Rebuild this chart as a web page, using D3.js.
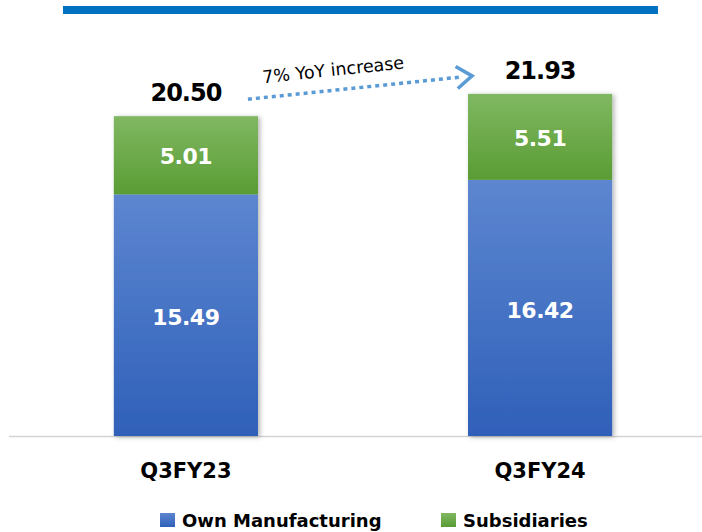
<!DOCTYPE html>
<html>
<head>
<meta charset="utf-8">
<script src="https://cdn.jsdelivr.net/npm/d3@7"></script>
<style>
	body { margin: 0; background: white; }
	svg { display: block; }
	text { font-family: "DejaVu Sans", Verdana, sans-serif; }
</style>
</head>
<body>
<svg id="chart" width="702" height="532"></svg>
<script>
let categories = ['Q3FY23', 'Q3FY24'];
let series_names = ['Own Manufacturing', 'Subsidiaries'];
let own_manufacturing = [15.49, 16.42];
let subsidiaries = [5.01, 5.51];
let totals = [20.50, 21.93];
let yoy_label = '7% YoY increase';

let width = 702, height = 532,
	axis_y = 436;

let svg = d3.select('#chart');

let x = d3.scaleBand().domain(categories)
	.range([9, 717])
	.paddingInner(0.593)
	.paddingOuter(0.296);
let y = d3.scaleLinear().domain([0, 25])
	.range([axis_y, 46]);

let data = categories.map((c, i) => ({
	cat: c,
	own: own_manufacturing[i],
	sub: subsidiaries[i],
	total: totals[i]
}));

// gradients + shadow
let defs = svg.append('defs');
let grads = [
	{id: 'grad_own', top: '#5d86d0', bottom: '#2f60b9'},
	{id: 'grad_sub', top: '#80b862', bottom: '#5a9c34'}
];
grads.forEach(g => {
	let lg = defs.append('linearGradient')
		.attr('id', g.id)
		.attr('x1', 0).attr('y1', 0).attr('x2', 0).attr('y2', 1);
	lg.append('stop').attr('offset', '0%').attr('stop-color', g.top);
	lg.append('stop').attr('offset', '100%').attr('stop-color', g.bottom);
});
let shadow = defs.append('filter')
	.attr('id', 'bar_shadow')
	.attr('x', '-10%').attr('y', '-10%')
	.attr('width', '125%').attr('height', '120%');
shadow.append('feDropShadow')
	.attr('dx', 2).attr('dy', 1)
	.attr('stdDeviation', 2.5)
	.attr('flood-color', '#000')
	.attr('flood-opacity', 0.3);

// blue band at top
svg.append('rect')
	.attr('x', 63)
	.attr('y', 6)
	.attr('width', 595)
	.attr('height', 8)
	.attr('fill', '#0070c0');

// axis line
svg.append('line')
	.attr('x1', 9)
	.attr('x2', width)
	.attr('y1', axis_y + 0.5)
	.attr('y2', axis_y + 0.5)
	.style('stroke', '#d4d4d4')
	.style('stroke-width', 1.5);

let bars = svg.selectAll('.bar')
	.data(data)
	.enter()
	.append('g')
	.attr('class', 'bar');

let bar_shapes = bars.append('g')
	.attr('filter', 'url(#bar_shadow)');

bar_shapes.append('rect')
	.attr('x', d => x(d.cat))
	.attr('y', d => y(d.own))
	.attr('width', x.bandwidth())
	.attr('height', d => y(0) - y(d.own))
	.attr('fill', 'url(#grad_own)');

bar_shapes.append('rect')
	.attr('x', d => x(d.cat))
	.attr('y', d => y(d.own + d.sub))
	.attr('width', x.bandwidth())
	.attr('height', d => y(d.own) - y(d.own + d.sub))
	.attr('fill', 'url(#grad_sub)');

// inside labels
bars.append('text')
	.attr('x', d => x(d.cat) + x.bandwidth() / 2)
	.attr('y', d => (y(0) + y(d.own)) / 2 + 10)
	.attr('text-anchor', 'middle')
	.style('font-size', '22px')
	.style('font-weight', 'bold')
	.style('letter-spacing', '-0.5px')
	.style('fill', 'white')
	.text(d => d.own.toFixed(2));

bars.append('text')
	.attr('x', d => x(d.cat) + x.bandwidth() / 2)
	.attr('y', d => (y(d.own) + y(d.own + d.sub)) / 2 + 9)
	.attr('text-anchor', 'middle')
	.style('font-size', '22px')
	.style('font-weight', 'bold')
	.style('letter-spacing', '-0.5px')
	.style('fill', 'white')
	.text(d => d.sub.toFixed(2));

// totals
bars.append('text')
	.attr('x', d => x(d.cat) + x.bandwidth() / 2)
	.attr('y', d => y(d.total) - 15)
	.attr('text-anchor', 'middle')
	.style('font-size', '24px')
	.style('font-weight', 'bold')
	.style('letter-spacing', '-1px')
	.style('fill', 'black')
	.text(d => d.total.toFixed(2));

// category labels
svg.selectAll('.cat_label')
	.data(categories)
	.enter()
	.append('text')
	.attr('class', 'cat_label')
	.attr('x', d => x(d) + x.bandwidth() / 2)
	.attr('y', 478)
	.attr('text-anchor', 'middle')
	.style('font-size', '21px')
	.style('font-weight', 'bold')
	.text(d => d);

// yoy arrow
let xc0 = x(categories[0]) + x.bandwidth() / 2,
	xc1 = x(categories[1]) + x.bandwidth() / 2;
let p0 = [xc0 + 62, y(totals[0]) - 17],
	p1 = [xc1 - 68, y(totals[1]) - 18];
let ang = Math.atan2(p1[1] - p0[1], p1[0] - p0[0]);

svg.append('line')
	.attr('x1', p0[0]).attr('y1', p0[1])
	.attr('x2', p1[0] - 10 * Math.cos(ang)).attr('y2', p1[1] - 10 * Math.sin(ang))
	.style('stroke', '#5b9bd5')
	.style('stroke-width', 3.5)
	.style('stroke-dasharray', '4,4');

let head = 19, spread = 0.62;
svg.append('path')
	.attr('d', d3.line()([
		[p1[0] - head * Math.cos(ang - spread), p1[1] - head * Math.sin(ang - spread)],
		p1,
		[p1[0] - head * Math.cos(ang + spread), p1[1] - head * Math.sin(ang + spread)]
	]))
	.style('fill', 'none')
	.style('stroke', '#5b9bd5')
	.style('stroke-width', 3.5);

svg.append('text')
	.attr('transform', `translate(${p0[0] + 15}, ${p0[1] - 16}) rotate(${ang * 180 / Math.PI})`)
	.style('font-size', '17.5px')
	.style('fill', 'black')
	.text(yoy_label);

// legend
let legend_x = [160, 441];
let legend = svg.selectAll('.legend')
	.data(series_names)
	.enter()
	.append('g')
	.attr('class', 'legend')
	.attr('transform', (d, i) => `translate(${legend_x[i]}, 513)`);

legend.append('rect')
	.attr('width', 15)
	.attr('height', 14)
	.attr('fill', (d, i) => `url(#${grads[i].id})`);

legend.append('text')
	.attr('x', 22)
	.attr('y', 13.5)
	.style('font-size', '18px')
	.style('font-weight', 'bold')
	.text(d => d);
</script>
</body>
</html>
